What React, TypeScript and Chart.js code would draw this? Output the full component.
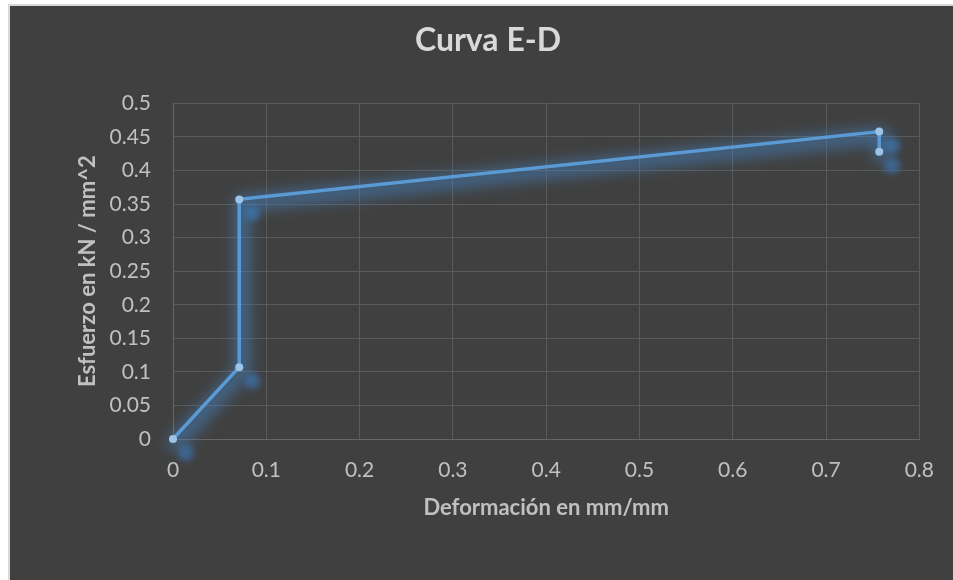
import React, { useEffect, useRef } from "react";
import { Chart, registerables } from "chart.js";

Chart.register(...registerables);

const xValues = [0, 0.071, 0.071, 0.757, 0.757];
const yValues = [0, 0.107, 0.357, 0.458, 0.428];
const titleText = "Curva E-D";
const xTitle = "Deformación en mm/mm";
const yTitle = "Esfuerzo en kN / mm^2";

const effectsPlugin = {
  id: "effects",
  beforeDatasetsDraw(chart: any) {
    const ctx = chart.ctx;
    const meta = chart.getDatasetMeta(0);
    const pts = meta.data.map((e: any) => ({ x: e.x, y: e.y }));
    ctx.save();
    // soft glow around the line
    ctx.filter = "blur(7px)";
    ctx.strokeStyle = "rgba(70,140,210,0.5)";
    ctx.lineWidth = 16;
    ctx.lineJoin = "round";
    ctx.lineCap = "round";
    ctx.beginPath();
    pts.forEach((p: any, i: number) => {
      if (i === 0) ctx.moveTo(p.x + 3, p.y + 4);
      else ctx.lineTo(p.x + 3, p.y + 4);
    });
    ctx.stroke();
    // offset marker shadows
    ctx.filter = "blur(3px)";
    ctx.fillStyle = "rgba(60,120,185,0.65)";
    pts.forEach((p: any) => {
      ctx.beginPath();
      ctx.arc(p.x + 13, p.y + 14, 8, 0, Math.PI * 2);
      ctx.fill();
    });
    ctx.restore();
  },
};

const fmt = (v: any) => String(+Number(v).toFixed(2));

export default function App() {
  const ref = useRef<HTMLCanvasElement>(null);
  useEffect(() => {
    if (!ref.current) return;
    const font = "Lato, 'Open Sans', sans-serif";
    const pts = xValues.map((x, i) => ({ x, y: yValues[i] }));
    const chart = new Chart(ref.current, {
      type: "scatter",
      data: {
        datasets: [
          {
            data: pts,
            showLine: true,
            borderColor: "#5b9bd5",
            borderWidth: 3.5,
            pointRadius: 4,
            pointBackgroundColor: "#9dc3e6",
            pointBorderColor: "#9dc3e6",
            pointBorderWidth: 0,
            tension: 0,
            clip: false,
          },
        ],
      },
      plugins: [effectsPlugin],
      options: {
        animation: false,
        responsive: false,
        maintainAspectRatio: false,
        layout: { padding: { left: 46, right: 33, top: 0, bottom: 59 } },
        plugins: {
          legend: { display: false },
          tooltip: { enabled: false },
          title: {
            display: true,
            text: titleText,
            color: "#d9d9d9",
            font: { family: font, size: 32, weight: "bold" },
            padding: { top: 15, bottom: 44 },
          },
        },
        scales: {
          x: {
            type: "linear",
            min: 0,
            max: 0.8,
            afterFit: (s: any) => {
              s.height = 82;
            },
            ticks: {
              stepSize: 0.1,
              color: "#c0c0c0",
              font: { family: font, size: 21 },
              padding: 19,
              callback: fmt,
            },
            grid: { color: "#5a5a5a", lineWidth: 1, drawTicks: false },
            border: { color: "#666666" },
            title: {
              display: true,
              text: xTitle,
              color: "#c0c0c0",
              font: { family: font, size: 22, weight: "bold" },
              padding: { top: 13, bottom: 0 },
            },
          },
          y: {
            type: "linear",
            min: 0,
            max: 0.5,
            afterFit: (s: any) => {
              s.width = 117;
            },
            ticks: {
              stepSize: 0.05,
              color: "#c0c0c0",
              font: { family: font, size: 21 },
              padding: 22,
              callback: fmt,
            },
            grid: { color: "#5a5a5a", lineWidth: 1, drawTicks: false },
            border: { color: "#666666" },
            title: {
              display: true,
              text: yTitle,
              color: "#c0c0c0",
              font: { family: font, size: 22, weight: "bold" },
              padding: { top: 19, bottom: 0 },
            },
          },
        },
      },
    });
    return () => chart.destroy();
  }, []);
  return (
    <div style={{ position: "fixed", inset: 0, background: "#ffffff" }}>
      <div
        style={{
          position: "absolute",
          left: 8,
          top: 4,
          width: 945,
          height: 576,
          background: "#404040",
          borderLeft: "2px solid #d9d9d9",
          borderTop: "2px solid #d9d9d9",
          boxSizing: "border-box",
        }}
      >
        <canvas ref={ref} width={943} height={574} style={{ display: "block" }} />
      </div>
    </div>
  );
}
